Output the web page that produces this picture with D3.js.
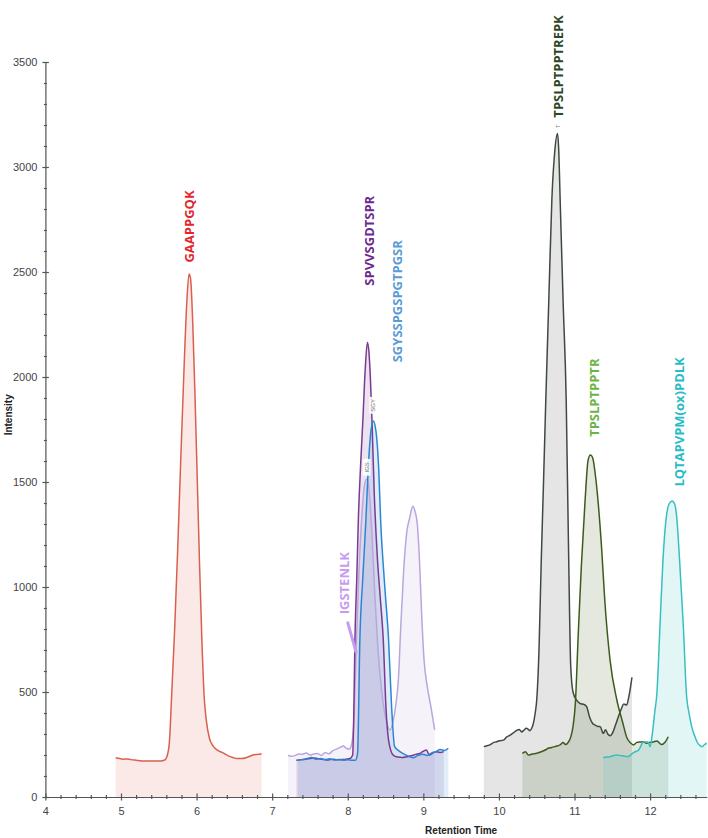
<!DOCTYPE html>
<html>
<head>
<meta charset="utf-8">
<script src="https://cdn.jsdelivr.net/npm/d3@7"></script>
<style>
  body { margin: 0; background: #fff; }
  svg { display: block; }
</style>
</head>
<body>
<div id="chart"></div>
<script>
// retention time (min), intensity
const traceGAAPPGQK = [
  [4.93,187],[4.98,183],[5.03,180],[5.08,181],[5.13,178],[5.2,175],[5.28,172],[5.36,171],[5.45,171],[5.53,172],
  [5.58,176],[5.61,195],[5.64,260],[5.67,480],[5.71,800],[5.75,1180],[5.79,1600],[5.83,2000],[5.87,2350],[5.90,2490],
  [5.92,2470],[5.95,2250],[5.98,1900],[6.01,1500],[6.04,1100],[6.07,750],[6.10,480],[6.13,361],[6.17,280],[6.22,242],
  [6.28,222],[6.35,210],[6.42,196],[6.48,188],[6.53,183],[6.6,183],[6.66,188],[6.71,195],[6.76,201],[6.81,203],[6.86,206]
];
const traceIGSTENLK = [
  [7.21,199],[7.25,194],[7.3,197],[7.35,205],[7.4,203],[7.45,210],[7.5,200],[7.55,205],[7.6,207],[7.65,198],
  [7.7,212],[7.75,206],[7.8,220],[7.85,228],[7.9,236],[7.94,243],[7.98,232],[8.02,228],[8.05,250],[8.08,350],
  [8.11,690],[8.14,1000],[8.18,1300],[8.22,1480],[8.25,1514],[8.28,1470],[8.32,1250],[8.36,950],[8.40,700],[8.45,500],
  [8.50,380],[8.56,319],[8.60,360],[8.64,450],[8.67,560],[8.70,800],[8.74,1080],[8.78,1260],[8.82,1330],[8.86,1385],
  [8.89,1360],[8.92,1300],[8.95,1120],[8.98,850],[9.01,650],[9.05,530],[9.10,430],[9.15,320]
];
const traceSPVVSGDTSPR = [
  [7.32,175],[7.38,178],[7.44,180],[7.5,183],[7.56,186],[7.62,182],[7.68,179],[7.74,176],[7.8,180],[7.86,177],
  [7.92,178],[7.98,180],[8.03,183],[8.065,200],[8.08,400],[8.095,748],[8.12,1050],[8.14,1319],[8.17,1580],[8.20,1795],
  [8.23,2030],[8.26,2164],[8.28,2120],[8.30,1990],[8.32,1800],[8.35,1450],[8.39,1150],[8.43,950],[8.47,748],[8.505,430],
  [8.54,271],[8.60,200],[8.66,190],[8.72,188],[8.78,192],[8.84,196],[8.9,203],[8.955,208],[9.0,218],[9.04,224],
  [9.08,200],[9.13,210],[9.17,216],[9.22,212],[9.27,216]
];
const traceSGYSSPGSPGTPGSR = [
  [7.34,175],[7.40,178],[7.46,183],[7.52,188],[7.58,180],[7.64,183],[7.70,178],[7.76,182],[7.82,176],[7.88,179],
  [7.94,175],[8.0,177],[8.06,175],[8.10,175],[8.13,208],[8.16,748],[8.20,1050],[8.24,1319],[8.27,1557],[8.30,1720],
  [8.337,1790],[8.37,1750],[8.41,1557],[8.435,1319],[8.49,1000],[8.54,748],[8.58,430],[8.62,240],[8.69,216],[8.78,198],
  [8.87,187],[8.93,198],[8.99,204],[9.05,198],[9.11,210],[9.17,216],[9.22,226],[9.28,222],[9.33,232]
];
const traceTPSLPTPPTREPK = [
  [9.80,240],[9.84,244],[9.88,248],[9.92,258],[9.97,263],[10.01,268],[10.06,271],[10.10,285],[10.15,295],[10.19,305],
  [10.23,316],[10.27,322],[10.30,310],[10.33,318],[10.36,327],[10.39,322],[10.41,316],[10.43,325],[10.45,343],[10.48,400],
  [10.50,462],[10.53,700],[10.56,1128],[10.59,1500],[10.62,1890],[10.66,2370],[10.70,2843],[10.74,3080],[10.775,3160],[10.79,3090],
  [10.81,2843],[10.85,2350],[10.89,1890],[10.92,1200],[10.95,620],[10.98,500],[11.03,460],[11.07,446],[11.13,440],[11.16,430],
  [11.20,380],[11.24,350],[11.27,343],[11.31,336],[11.34,335],[11.38,303],[11.41,320],[11.44,300],[11.47,292],[11.51,310],
  [11.54,340],[11.58,382],[11.62,420],[11.65,443],[11.69,438],[11.72,480],[11.76,570]
];
const traceTPSLPTPPTR = [
  [10.31,208],[10.35,216],[10.39,200],[10.44,205],[10.50,208],[10.55,214],[10.59,220],[10.62,225],[10.65,232],[10.70,236],
  [10.74,240],[10.78,244],[10.81,248],[10.85,259],[10.88,250],[10.92,262],[10.95,285],[10.98,335],[11.01,440],[11.05,780],
  [11.09,1097],[11.14,1414],[11.18,1605],[11.21,1629],[11.24,1615],[11.27,1550],[11.31,1414],[11.36,1176],[11.40,938],[11.47,652],
  [11.56,462],[11.64,351],[11.69,285],[11.74,258],[11.78,248],[11.82,259],[11.87,262],[11.91,263],[11.95,256],[11.99,259],
  [12.04,262],[12.09,267],[12.15,250],[12.20,262],[12.24,287]
];
const traceLQTAPVPMPDLK = [
  [11.38,187],[11.42,190],[11.47,192],[11.52,198],[11.56,200],[11.61,197],[11.65,195],[11.70,192],[11.74,200],[11.78,211],
  [11.82,218],[11.85,224],[11.88,245],[11.91,263],[11.94,262],[11.97,263],[12.0,240],[12.03,303],[12.06,400],[12.09,494],
  [12.13,811],[12.17,1128],[12.21,1320],[12.25,1395],[12.29,1410],[12.32,1400],[12.35,1340],[12.39,1128],[12.44,811],[12.48,494],
  [12.52,390],[12.55,335],[12.59,290],[12.62,263],[12.66,245],[12.69,240],[12.72,250],[12.75,256]
];

const peptides = ["GAAPPGQK", "IGSTENLK", "SPVVSGDTSPR", "SGYSSPGSPGTPGSR", "TPSLPTPPTREPK", "TPSLPTPPTR", "LQTAPVPM(ox)PDLK"];
const traces = [traceGAAPPGQK, traceIGSTENLK, traceSPVVSGDTSPR, traceSGYSSPGSPGTPGSR, traceTPSLPTPPTREPK, traceTPSLPTPPTR, traceLQTAPVPMPDLK];
// label anchor (retention time, intensity) where the rotated name starts
const labelTimes = [5.91, 7.96, 8.28, 8.65, 10.78, 11.26, 12.39];
const labelIntensities = [2545, 870, 2435, 2070, 3235, 1715, 1478];
const xTicks = d3.range(20, 64).map((v) => v / 5);
const yTicks = d3.range(0, 3501, 100);

const lineColors = ["#d9604f", "#b9a6dc", "#7b3a92", "#2a86d2", "#3f4a3f", "#3e5b1c", "#38bfc0"];
const labelColors = ["#e3262c", "#c59cf0", "#6a2a8e", "#5b9bd5", "#2c4626", "#6cb443", "#28bcc7"];

const width = 708;
const height = 838;

const svg = d3
  .select("#chart")
  .append("svg")
  .attr("width", width)
  .attr("height", height);

const x = d3.scaleLinear().domain([4, 12.75]).range([45.4, 706.8]);
const y = d3.scaleLinear().domain([0, 3500]).range([797, 62]);

const area = d3
  .area()
  .x((d) => x(d[0]))
  .y0(y(0))
  .y1((d) => y(d[1]))
  .curve(d3.curveMonotoneX);

const line = d3
  .line()
  .x((d) => x(d[0]))
  .y((d) => y(d[1]))
  .curve(d3.curveMonotoneX);

// fills under every trace
svg
  .append("g")
  .selectAll("path")
  .data(traces)
  .enter()
  .append("path")
  .attr("d", area)
  .attr("fill", (d, i) => lineColors[i])
  .attr("fill-opacity", 0.14);

svg
  .append("g")
  .selectAll("path")
  .data(traces)
  .enter()
  .append("path")
  .attr("d", line)
  .attr("fill", "none")
  .attr("stroke", (d, i) => lineColors[i])
  .attr("stroke-width", 1.5)
  .attr("stroke-linejoin", "round");

// axes
const isMajorY = (d) => d % 500 === 0;
const isMajorX = (d) => Math.abs(d - Math.round(d)) < 1e-6;

const yAxis = svg
  .append("g")
  .attr("transform", `translate(${x(4)},0)`)
  .call(
    d3.axisLeft(y)
      .tickValues(yTicks)
      .tickSize(0)
      .tickSizeOuter(0)
      .tickPadding(8)
      .tickFormat((d) => (isMajorY(d) ? d : ""))
  );

yAxis.selectAll(".tick line")
  .attr("x1", (d) => (isMajorY(d) ? -3 : -1.5))
  .attr("x2", (d) => (isMajorY(d) ? 3.5 : 1.5));

const xAxis = svg
  .append("g")
  .attr("transform", `translate(0,${y(0)})`)
  .call(
    d3.axisBottom(x)
      .tickValues(xTicks)
      .tickSize(0)
      .tickSizeOuter(0)
      .tickPadding(10)
      .tickFormat((d) => (isMajorX(d) ? d3.format("d")(d) : ""))
  );

xAxis.selectAll(".tick line")
  .attr("y1", (d) => (isMajorX(d) ? -3.5 : -2))
  .attr("y2", (d) => (isMajorX(d) ? 3.5 : 2));

svg.selectAll(".domain, .tick line").attr("stroke", "#555").attr("stroke-width", 1.2);
svg.selectAll(".tick text")
  .attr("fill", "#444")
  .style("font-family", "Liberation Sans, Arial, sans-serif")
  .style("font-size", "11px");

svg
  .append("text")
  .attr("transform", `translate(12,${y(1820)}) rotate(-90)`)
  .attr("text-anchor", "middle")
  .style("font-family", "Liberation Sans, Arial, sans-serif")
  .style("font-size", "10px")
  .style("font-weight", "bold")
  .attr("fill", "#222")
  .text("Intensity");

svg
  .append("text")
  .attr("x", x(9.5))
  .attr("y", 834)
  .attr("text-anchor", "middle")
  .style("font-family", "Liberation Sans, Arial, sans-serif")
  .style("font-size", "10px")
  .style("font-weight", "bold")
  .attr("fill", "#222")
  .text("Retention Time");

// peptide names, rotated
svg
  .append("g")
  .selectAll("text")
  .data(peptides)
  .enter()
  .append("text")
  .attr("transform", (d, i) => `translate(${x(labelTimes[i])},${y(labelIntensities[i])}) rotate(-90)`)
  .attr("dy", "0.36em")
  .attr("fill", (d, i) => labelColors[i])
  .style("font-family", "Open Sans, sans-serif")
  .style("font-size", "13px")
  .style("font-weight", "bold")
  .text((d) => d);

// pointer from IGSTENLK to its peak flank
svg
  .append("line")
  .attr("x1", x(8.0))
  .attr("y1", y(830))
  .attr("x2", x(8.11))
  .attr("y2", y(690))
  .attr("stroke", labelColors[1])
  .attr("stroke-width", 3)
  .attr("stroke-linecap", "round");

// tiny peak tags
const tags = [
  { text: "IGS", t: 8.25, v: 1570 },
  { text: "SGY", t: 8.337, v: 1865 },
  { text: "T", t: 10.775, v: 3195 },
];
const tag = svg
  .append("g")
  .selectAll("g")
  .data(tags)
  .enter()
  .append("g")
  .attr("transform", (d) => `translate(${x(d.t)},${y(d.v)}) rotate(-90)`);
tag
  .append("rect")
  .attr("x", (d) => -d.text.length * 2.3 - 1.5)
  .attr("y", -4)
  .attr("width", (d) => d.text.length * 4.6 + 3)
  .attr("height", 8)
  .attr("fill", "#fff")
  .attr("fill-opacity", 0.9);
tag
  .append("text")
  .attr("text-anchor", "middle")
  .attr("dy", "0.35em")
  .attr("fill", "#777")
  .style("font-family", "Liberation Sans, Arial, sans-serif")
  .style("font-size", "6px")
  .text((d) => d.text);
</script>
</body>
</html>
